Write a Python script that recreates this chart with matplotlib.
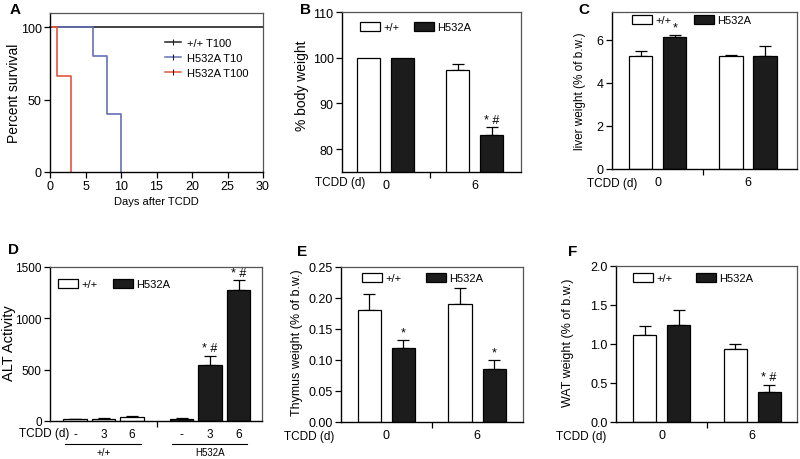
import matplotlib
matplotlib.use('Agg')
import matplotlib.pyplot as plt
from matplotlib.patches import Patch
from matplotlib.lines import Line2D

plt.rcParams['font.family'] = ['Liberation Sans', 'DejaVu Sans']

# ---- data ----
# A: Kaplan-Meier survival
days_wt_t100 = [0, 30]
surv_wt_t100 = [100, 100]
days_h_t10 = [0, 6, 8, 10]
surv_h_t10 = [100, 80, 40, 0]
days_h_t100 = [0, 1, 3]
surv_h_t100 = [100, 66.7, 0]
surv_names = ['+/+ T100', 'H532A T10', 'H532A T100']

tcdd_days = ['0', '6']

# B: body weight
body_wt = [100, 97.3]
body_wt_err = [0, 1.4]
body_h = [100, 83.2]
body_h_err = [0, 1.6]
body_h_marks = ['', '* #']

# C: liver weight
liver_wt = [5.25, 5.25]
liver_wt_err = [0.25, 0.04]
liver_h = [6.12, 5.25]
liver_h_err = [0.12, 0.48]
liver_h_marks = ['*', '']

# D: ALT activity
alt_days = ['-', '3', '6']
alt_wt = [15, 22, 35]
alt_wt_err = [3, 5, 12]
alt_h = [22, 542, 1280]
alt_h_err = [4, 95, 90]
alt_h_marks = ['', '* #', '* #']

# E: thymus weight
thymus_wt = [0.180, 0.191]
thymus_wt_err = [0.026, 0.025]
thymus_h = [0.120, 0.086]
thymus_h_err = [0.013, 0.014]
thymus_h_marks = ['*', '*']

# F: WAT weight
wat_wt = [1.11, 0.94]
wat_wt_err = [0.12, 0.06]
wat_h = [1.25, 0.39]
wat_h_err = [0.19, 0.09]
wat_h_marks = ['', '* #']

W, H = 800, 460
fig = plt.figure(figsize=(W / 100, H / 100), dpi=100)


def add_ax(l, t, r, b):
    ax = fig.add_axes([l / W, 1 - b / H, (r - l) / W, (b - t) / H])
    for s in ['left', 'bottom']:
        ax.spines[s].set_color('black')
        ax.spines[s].set_linewidth(1.0)
    for s in ['top', 'right']:
        ax.spines[s].set_color('#555555')
        ax.spines[s].set_linewidth(0.9)
    ax.tick_params(direction='out', length=4, width=0.9, labelsize=9, pad=2)
    return ax


def fig_xy(x, y):
    return (x / W, 1 - y / H)


def bar_legend(ax, x, y, spacing):
    handles = [Patch(facecolor='white', edgecolor='black', linewidth=0.9),
               Patch(facecolor='#1c1c1c', edgecolor='black', linewidth=0.9)]
    ax.legend(handles, ['+/+', 'H532A'], ncol=2, frameon=False, fontsize=8,
              loc='upper left', bbox_to_anchor=fig_xy(x, y),
              bbox_transform=fig.transFigure, borderpad=0, borderaxespad=0,
              handlelength=1.8, handleheight=0.9, handletextpad=0.3,
              columnspacing=spacing)


def draw_bars(ax, pos, vals, errs, color):
    ax.bar(pos, vals, width=0.68, color=color, edgecolor='black', linewidth=0.9, zorder=2)
    for p, v, e in zip(pos, vals, errs):
        if e > 0:
            ax.errorbar([p], [v], yerr=[[0], [e]], fmt='none', ecolor='black',
                        elinewidth=0.9, capsize=4, capthick=0.9, zorder=1)


def marks(ax, pos, vals, errs, labels):
    for p, v, e, m in zip(pos, vals, errs, labels):
        if m:
            ax.annotate(m, (p, v + e), xytext=(0, 1), textcoords='offset points',
                        ha='center', va='bottom', fontsize=9)


def bar_panel(box, wt, wt_err, mut, mut_err, mut_marks, ylim, yticks, fmt,
              ylabel, ylab_fs, ylab_xy, centers, xmax, tcdd_xy, leg_xy, leg_sp):
    ax = add_ax(*box)
    pos_wt = [c - 0.5 for c in centers]
    pos_h = [c + 0.5 for c in centers]
    draw_bars(ax, pos_wt, wt, wt_err, 'white')
    draw_bars(ax, pos_h, mut, mut_err, '#1c1c1c')
    marks(ax, pos_h, mut, mut_err, mut_marks)
    ax.set_xlim(0, xmax)
    ax.set_ylim(*ylim)
    ax.set_yticks(yticks)
    ax.set_yticklabels([fmt.format(t) for t in yticks])
    ax.set_xticks(centers)
    ax.set_xticklabels(tcdd_days, fontsize=9)
    ax.tick_params(axis='x', which='major', length=0, pad=5)
    ax.set_xticks([(centers[0] + centers[1]) / 2], minor=True)
    ax.tick_params(axis='x', which='minor', direction='out', length=4, width=0.9)
    ax.set_ylabel(ylabel, fontsize=ylab_fs)
    ax.yaxis.set_label_coords(*fig_xy(*ylab_xy), transform=fig.transFigure)
    fig.text(*fig_xy(*tcdd_xy), 'TCDD (d)', fontsize=8.5, ha='center', va='center')
    bar_legend(ax, leg_xy[0], leg_xy[1], leg_sp)
    return ax


# ---- A ----
ax = add_ax(50, 14, 263, 173)
ax.step(days_wt_t100, surv_wt_t100, where='post', color='#222222', lw=1.2, clip_on=False)
ax.step(days_h_t10, surv_h_t10, where='post', color='#6470b4', lw=1.2)
ax.step(days_h_t100, surv_h_t100, where='post', color='#e0563c', lw=1.2)
ax.set_xlim(0, 30)
ax.set_ylim(0, 110)
ax.set_xticks(range(0, 31, 5))
ax.set_yticks([0, 50, 100])
ax.set_xlabel('Days after TCDD', fontsize=8, labelpad=3)
ax.set_ylabel('Percent survival', fontsize=10)
ax.yaxis.set_label_coords(*fig_xy(21, 93), transform=fig.transFigure)
leg_h = [Line2D([], [], color=c, lw=1.1, marker='|', markersize=4, markeredgewidth=0.8,
                markeredgecolor='#222222')
         for c in ['#222222', '#6470b4', '#e0563c']]
ax.legend(leg_h, surv_names, frameon=False, fontsize=8, loc='upper left',
          bbox_to_anchor=fig_xy(165, 39), bbox_transform=fig.transFigure,
          borderpad=0, borderaxespad=0, handlelength=1.4, handletextpad=0.6,
          labelspacing=0.45)
fig.text(*fig_xy(10, 10), 'A', fontsize=11, fontweight='bold', va='center')

# ---- B ----
bar_panel((342, 13, 521, 173), body_wt, body_wt_err, body_h, body_h_err, body_h_marks,
          (75, 110), [80, 90, 100, 110], '{:g}', '% body weight', 10, (309, 86),
          [1.29, 3.93], 5.3, (340, 183), (360, 23), 1.3)
fig.text(*fig_xy(300, 10), 'B', fontsize=11, fontweight='bold', va='center')

# ---- C ----
bar_panel((612, 13, 797, 170), liver_wt, liver_wt_err, liver_h, liver_h_err, liver_h_marks,
          (0, 7.3), [0, 2, 4, 6], '{:g}', 'liver weight (% of b.w.)', 8.5, (586, 91),
          [1.35, 4.0], 5.44, (612, 184), (632, 16), 2.0)
fig.text(*fig_xy(578, 10), 'C', fontsize=11, fontweight='bold', va='center')

# ---- D ----
ax = add_ax(50, 268, 262, 422)
pos_wt = [0.88, 1.88, 2.88]
pos_h = [4.62, 5.62, 6.62]
ax.bar(pos_wt, alt_wt, width=0.82, color='white', edgecolor='black', linewidth=0.9, zorder=2)
ax.bar(pos_h, alt_h, width=0.82, color='#1c1c1c', edgecolor='black', linewidth=0.9, zorder=2)
for p, v, e in zip(pos_wt + pos_h, alt_wt + alt_h, alt_wt_err + alt_h_err):
    ax.errorbar([p], [v], yerr=[[0], [e]], fmt='none', ecolor='black',
                elinewidth=0.9, capsize=4, capthick=0.9, zorder=1)
marks(ax, pos_h, alt_h, alt_h_err, alt_h_marks)
ax.set_xlim(0, 7.44)
ax.set_ylim(0, 1500)
ax.set_yticks([0, 500, 1000, 1500])
ax.tick_params(axis='y', labelsize=8.5)
ax.set_xticks(pos_wt + pos_h)
ax.set_xticklabels(alt_days + alt_days, fontsize=8.5)
ax.tick_params(axis='x', which='major', length=0, pad=5)
ax.set_xticks([3.75], minor=True)
ax.tick_params(axis='x', which='minor', direction='out', length=4, width=0.9)
ax.set_ylabel('ALT Activity', fontsize=10.5)
ax.yaxis.set_label_coords(*fig_xy(16, 343), transform=fig.transFigure)
fig.text(*fig_xy(44, 434), 'TCDD (d)', fontsize=8.5, ha='center', va='center')
tr = ax.get_xaxis_transform()
for grp, pos in [('+/+', pos_wt), ('H532A', pos_h)]:
    ax.plot([pos[0] - 0.35, pos[-1] + 0.3], [-0.15, -0.15], color='black', lw=0.8,
            transform=tr, clip_on=False)
    ax.text((pos[0] + pos[-1]) / 2, -0.2, grp, transform=tr, ha='center', va='center',
            fontsize=7)
bar_legend(ax, 58, 280, 1.4)
fig.text(*fig_xy(8, 250), 'D', fontsize=11, fontweight='bold', va='center')

# ---- E ----
bar_panel((341, 268, 523, 423), thymus_wt, thymus_wt_err, thymus_h, thymus_h_err, thymus_h_marks,
          (0, 0.25), [0, 0.05, 0.10, 0.15, 0.20, 0.25], '{:.2f}', 'Thymus weight (% of b.w.)',
          9, (303, 343), [1.33, 4.0], 5.35, (309, 437), (362, 274), 2.2)
fig.text(*fig_xy(297, 252), 'E', fontsize=11, fontweight='bold', va='center')

# ---- F ----
bar_panel((616, 267, 797, 423), wat_wt, wat_wt_err, wat_h, wat_h_err, wat_h_marks,
          (0, 2.0), [0, 0.5, 1.0, 1.5, 2.0], '{:.1f}', 'WAT weight (% of b.w.)',
          9, (574, 343), [1.34, 4.0], 5.32, (581, 437), (633, 274), 2.1)
fig.text(*fig_xy(568, 252), 'F', fontsize=11, fontweight='bold', va='center')

fig.savefig('out.png', dpi=100)
